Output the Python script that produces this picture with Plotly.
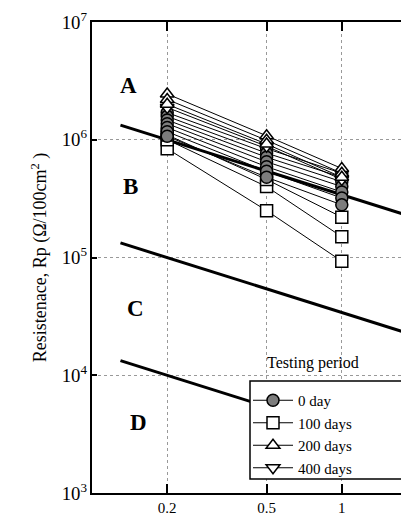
import plotly.graph_objects as go
import math

# ---------------- data ----------------
x_scan = [0.2, 0.5, 1]            # x positions of measurements
x_tickvals = [0.2, 0.5, 1]
x_ticktext = ["0.2", "0.5", "1"]

# 0 day (circles)
rp_0day = [
    [1.70e6, 8.4e5, 5.2e5],
    [1.58e6, 7.7e5, 4.8e5],
    [1.47e6, 7.1e5, 4.4e5],
    [1.37e6, 6.5e5, 4.0e5],
    [1.27e6, 5.9e5, 3.6e5],
    [1.17e6, 5.4e5, 3.2e5],
    [1.07e6, 4.8e5, 2.8e5],
]
# 100 days (squares)
rp_100days = [
    [8.4e5, 2.5e5, 9.3e4],
    [1.0e6, 4.0e5, 1.5e5],
    [1.1e6, 4.6e5, 2.2e5],
]
# 200 days (triangle up)
rp_200days = [
    [2.45e6, 1.08e6, 5.7e5],
    [2.20e6, 9.9e5, 5.2e5],
    [2.00e6, 9.2e5, 4.8e5],
]
# 400 days (triangle down)
rp_400days = [
    [1.88e6, 8.8e5, 4.6e5],
]

# region boundary lines
boundary_x = [0.13, 2.0]
boundary_ab = [1.33e6, 2.15e5]
boundary_bc = [1.33e5, 2.15e4]
boundary_cd = [1.33e4, 2.15e3]

region_labels = ["A", "B", "C", "D"]
region_label_x = [0.140, 0.143, 0.149, 0.153]
region_label_y = [2.9e6, 4.0e5, 3.7e4, 4.0e3]

FONT = "Liberation Serif, Times New Roman, serif"

fig = go.Figure()

for by in [boundary_ab, boundary_bc, boundary_cd]:
    fig.add_trace(go.Scatter(x=boundary_x, y=by, mode="lines",
                             line=dict(color="black", width=3),
                             showlegend=False, hoverinfo="skip"))

groups = [
    ("0 day", rp_0day, "circle", "#7d7d7d"),
    ("100 days", rp_100days, "square", "white"),
    ("200 days", rp_200days, "triangle-up", "white"),
    ("400 days", rp_400days, "triangle-down", "white"),
]

# lines first
for name, series, sym, fill in groups:
    for s in series:
        fig.add_trace(go.Scatter(x=x_scan, y=s, mode="lines",
                                 line=dict(color="black", width=1),
                                 showlegend=False, hoverinfo="skip"))

# markers (triangles drawn on top)
draw_order = [groups[1], groups[0], groups[3], groups[2]]
for name, series, sym, fill in draw_order:
    for s in series:
        fig.add_trace(go.Scatter(x=x_scan, y=s, mode="markers",
                                 marker=dict(symbol=sym, size=12, color=fill,
                                             line=dict(color="black", width=1.5)),
                                 showlegend=False))

# legend entries
for name, series, sym, fill in groups:
    fig.add_trace(go.Scatter(x=[None], y=[None], mode="lines+markers", name=name,
                             marker=dict(symbol=sym, size=12, color=fill,
                                         line=dict(color="black", width=1.5)),
                             line=dict(color="black", width=1)))

for t, xx, yy in zip(region_labels, region_label_x, region_label_y):
    fig.add_annotation(x=math.log10(xx), y=math.log10(yy), text="<b>" + t + "</b>",
                       showarrow=False,
                       font=dict(family=FONT, size=23, color="black"),
                       xanchor="center", yanchor="middle")

# legend title outside the box
fig.add_annotation(xref="paper", yref="paper", x=(305 - 84) / 325, y=(485 - 366) / 471,
                   text="Testing period",
                   showarrow=False, font=dict(family=FONT, size=16, color="black"),
                   xanchor="center", yanchor="bottom")

# legend frame
fig.add_shape(type="rect", xref="paper", yref="paper",
              x0=(242 - 84) / 325, x1=(396 - 84) / 325,
              y0=(485 - 471) / 471, y1=(485 - 373) / 471,
              line=dict(color="black", width=1.5), fillcolor="white", layer="above")

fig.update_layout(
    width=409, height=518,
    margin=dict(l=84, r=0, t=14, b=33),
    plot_bgcolor="white", paper_bgcolor="white",
    font=dict(family=FONT, color="black"),
    legend=dict(x=(240 - 84) / 325, y=(485 - 376) / 471, xanchor="left", yanchor="top",
                borderwidth=0, bgcolor="rgba(0,0,0,0)",
                font=dict(family=FONT, size=15), itemwidth=40,
                tracegroupgap=0),
)
fig.update_xaxes(type="log", range=[-1, math.log10(2)],
                 tickvals=x_tickvals, ticktext=x_ticktext,
                 ticks="inside", ticklen=9, tickwidth=2, tickcolor="black",
                 showline=True, linecolor="black", linewidth=2, mirror="ticks",
                 showgrid=True, gridcolor="#999", griddash="dot", gridwidth=1,
                 tickfont=dict(family=FONT, size=15), zeroline=False)
fig.update_yaxes(type="log", range=[3, 7], dtick=1, exponentformat="power",
                 ticks="inside", ticklen=5, tickwidth=1.5, tickcolor="black",
                 showline=True, linecolor="black", linewidth=2,
                 showgrid=True, gridcolor="#999", griddash="dot", gridwidth=1,
                 tickfont=dict(family=FONT, size=15), zeroline=False,
                 title=dict(text="Resistenace, Rp (Ω/100cm<sup>2</sup> )",
                            font=dict(family=FONT, size=18), standoff=10))

fig.write_html("out.html")
